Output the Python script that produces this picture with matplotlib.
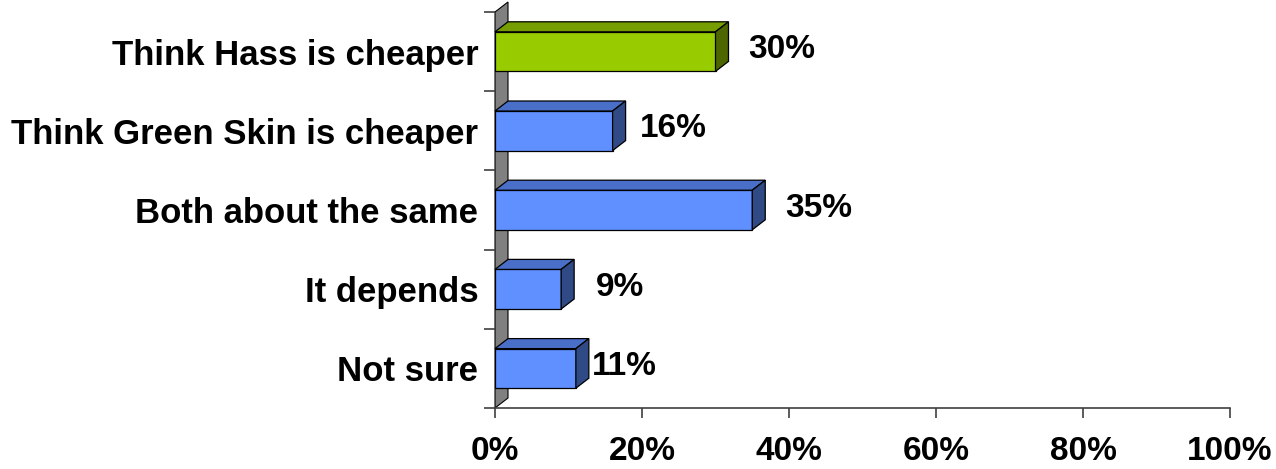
import matplotlib
matplotlib.use('Agg')
import matplotlib.pyplot as plt
from matplotlib.patches import Polygon
import numpy as np


categories = ['Think Hass is cheaper', 'Think Green Skin is cheaper',
              'Both about the same', 'It depends', 'Not sure']
values = [30, 16, 35, 9, 11]
value_labels = ['30%', '16%', '35%', '9%', '11%']
xtick_labels = ['0%', '20%', '40%', '60%', '80%', '100%']

# colours per bar: (front, top, side)
blue = ('#6090FF', '#4A6FC9', '#2F4A85')
green = ('#99CC00', '#779E00', '#4D6600')
bar_colors = [green, blue, blue, blue, blue]
label_pad = [2.7, 2.0, 2.7, 2.9, 0.4]  # extra gap after bar, in x units

plt.rcParams['font.family'] = ['Liberation Sans', 'DejaVu Sans']
plt.rcParams['font.weight'] = 'bold'

fig = plt.figure(figsize=(12.76, 4.69), dpi=100)
ax = fig.add_axes([495 / 1276, 61 / 469, 735 / 1276, 396 / 469])
ax.set_xlim(0, 100)
ax.set_ylim(0, 5)

# depth of the fake 3d effect, in data units
dx = 13 / 7.35
dy = 10 / 79.2
h = 0.5

# back wall
wall = Polygon([(0, 0), (dx, dy), (dx, 5 + dy), (0, 5)], closed=True,
               facecolor='#808080', edgecolor='black', lw=0.8,
               clip_on=False, zorder=1)
ax.add_patch(wall)

ys = np.arange(len(categories))[::-1] + 0.5
for y, v, (front, top, side) in zip(ys, values, bar_colors):
    ax.barh(y, v, height=h, color=front, edgecolor='black', lw=0.9, zorder=3)
    y0, y1 = y - h / 2, y + h / 2
    ax.add_patch(Polygon([(0, y1), (dx, y1 + dy), (v + dx, y1 + dy), (v, y1)],
                         closed=True, facecolor=top, edgecolor='black',
                         lw=0.9, clip_on=False, zorder=3))
    ax.add_patch(Polygon([(v, y0), (v, y1), (v + dx, y1 + dy), (v + dx, y0 + dy)],
                         closed=True, facecolor=side, edgecolor='black',
                         lw=0.9, clip_on=False, zorder=3))

for y, v, lab, pad in zip(ys, values, value_labels, label_pad):
    ax.text(v + dx + pad, y + dy / 2 - 0.04, lab, ha='left', va='center',
            fontsize=24, fontweight='bold', color='black')

# axes styling
for s in ['top', 'right']:
    ax.spines[s].set_visible(False)
ax.spines['left'].set_visible(False)
ax.spines['bottom'].set_color('#404040')
ax.spines['bottom'].set_linewidth(1.2)

ax.set_xticks(np.arange(0, 101, 20))
ax.set_xticklabels(xtick_labels, fontsize=24, fontweight='bold')
ax.tick_params(axis='x', direction='out', length=7, width=1.2,
               color='#404040', pad=13)

ax.set_yticks(np.arange(0, 6))
ax.set_yticklabels([])
ax.tick_params(axis='y', which='major', direction='out', length=8,
               width=1.2, color='#404040')
ax.set_yticks(ys, minor=True)
ax.set_yticklabels(categories, minor=True, fontsize=25, fontweight='bold')
ax.tick_params(axis='y', which='minor', length=0, pad=12)

fig.savefig('out.png', dpi=100)
